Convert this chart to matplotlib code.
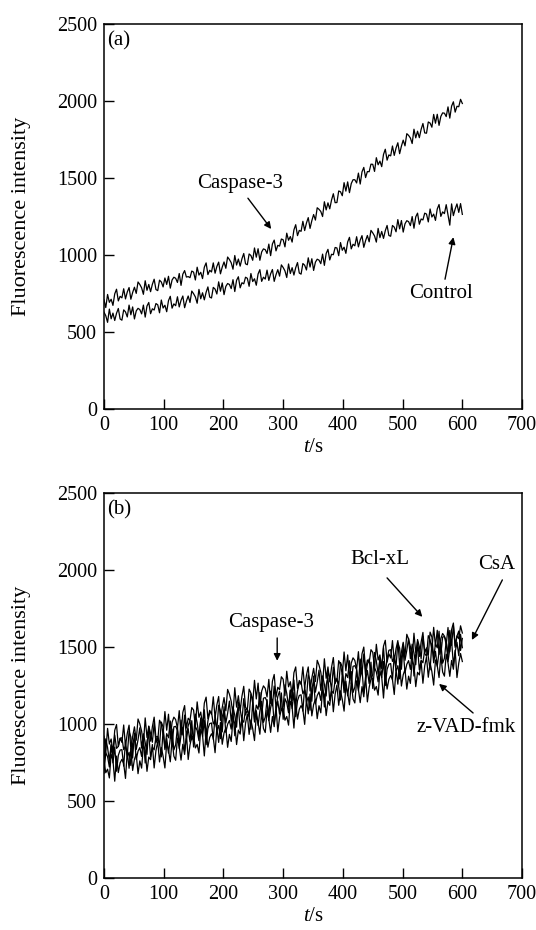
import matplotlib
matplotlib.use("Agg")
import matplotlib.pyplot as plt
import numpy as np

plt.rcParams['font.family'] = ['Liberation Serif', 'DejaVu Serif']
plt.rcParams['mathtext.fontset'] = 'custom'
plt.rcParams['mathtext.rm'] = 'Liberation Serif'
plt.rcParams['mathtext.it'] = 'Liberation Serif:italic'

# time axis: one reading every 3 s, 0..600 s
t = np.arange(0, 601, 3)

# panel (a)
a_caspase3 = [710, 660, 745, 694, 714, 674, 749, 779, 703, 733,
              723, 782, 716, 761, 790, 714, 758, 792, 752, 826,
              810, 788, 746, 834, 772, 810, 763, 811, 844, 777,
              770, 838, 826, 794, 852, 810, 863, 786, 839, 857,
              850, 823, 881, 804, 877, 900, 858, 861, 854, 897,
              890, 839, 922, 871, 889, 848, 922, 950, 874, 902,
              891, 950, 883, 927, 955, 879, 923, 956, 915, 988,
              972, 951, 909, 998, 936, 975, 929, 977, 1011, 944,
              938, 1008, 998, 967, 1047, 987, 1042, 967, 1021, 1041,
              1036, 1011, 1072, 997, 1073, 1098, 1028, 1064, 1059, 1105,
              1100, 1054, 1143, 1097, 1121, 1085, 1164, 1198, 1127, 1161,
              1155, 1220, 1160, 1209, 1244, 1174, 1224, 1264, 1228, 1308,
              1298, 1284, 1251, 1347, 1294, 1340, 1301, 1358, 1399, 1341,
              1342, 1417, 1412, 1386, 1471, 1416, 1476, 1406, 1465, 1490,
              1490, 1469, 1533, 1462, 1541, 1570, 1504, 1543, 1542, 1591,
              1590, 1544, 1633, 1587, 1611, 1575, 1654, 1688, 1617, 1651,
              1645, 1709, 1648, 1696, 1730, 1659, 1708, 1747, 1710, 1789,
              1778, 1761, 1725, 1818, 1762, 1805, 1763, 1817, 1855, 1794,
              1792, 1865, 1858, 1831, 1914, 1857, 1915, 1843, 1901, 1924,
              1922, 1900, 1963, 1890, 1968, 1996, 1929, 1967, 1964, 2012,
              1985]
a_control = [630, 607, 564, 650, 587, 624, 576, 623, 654, 586,
             578, 645, 632, 599, 676, 613, 664, 586, 638, 655,
             647, 619, 676, 598, 670, 693, 620, 652, 644, 686,
             678, 626, 709, 657, 675, 633, 705, 733, 656, 684,
             672, 730, 664, 707, 735, 659, 702, 735, 693, 767,
             750, 729, 688, 778, 717, 756, 710, 759, 794, 728,
             722, 791, 780, 748, 827, 766, 820, 744, 797, 816,
             810, 783, 841, 764, 837, 860, 788, 821, 814, 857,
             850, 798, 881, 829, 847, 805, 878, 906, 830, 857,
             845, 903, 836, 879, 907, 830, 873, 906, 864, 937,
             920, 898, 855, 943, 881, 919, 871, 919, 952, 884,
             877, 946, 935, 904, 983, 923, 977, 901, 955, 974,
             968, 945, 1007, 934, 1011, 1038, 969, 1006, 1003, 1050,
             1047, 997, 1082, 1032, 1052, 1012, 1086, 1116, 1041, 1071,
             1061, 1120, 1054, 1098, 1127, 1051, 1094, 1128, 1087, 1161,
             1145, 1125, 1085, 1174, 1114, 1154, 1109, 1159, 1193, 1128,
             1123, 1193, 1182, 1152, 1231, 1171, 1225, 1150, 1204, 1224,
             1218, 1192, 1251, 1175, 1249, 1273, 1201, 1235, 1229, 1273,
             1267, 1216, 1300, 1248, 1267, 1226, 1300, 1329, 1252, 1281,
             1270, 1328, 1262, 1195, 1333, 1257, 1300, 1333, 1278, 1335,
             1265]

# panel (b)
b_caspase3 = [920, 813, 971, 869, 902, 815, 958, 996, 854, 907,
              880, 993, 856, 939, 992, 835, 918, 981, 894, 1032,
              1000, 953, 866, 1039, 912, 985, 888, 981, 1044, 907,
              890, 1024, 998, 931, 1080, 959, 1063, 907, 1010, 1044,
              1028, 972, 1086, 931, 1075, 1119, 973, 1037, 1022, 1106,
              1090, 984, 1143, 1043, 1077, 991, 1135, 1174, 1034, 1088,
              1062, 1176, 1040, 1124, 1178, 1023, 1107, 1171, 1085, 1224,
              1193, 1147, 1061, 1235, 1109, 1183, 1086, 1180, 1244, 1108,
              1092, 1226, 1200, 1134, 1283, 1162, 1265, 1109, 1213, 1247,
              1231, 1175, 1289, 1133, 1277, 1321, 1174, 1238, 1222, 1306,
              1290, 1184, 1342, 1241, 1274, 1188, 1332, 1370, 1229, 1282,
              1256, 1370, 1233, 1317, 1370, 1214, 1298, 1361, 1275, 1413,
              1382, 1336, 1249, 1423, 1296, 1370, 1274, 1367, 1431, 1294,
              1278, 1411, 1385, 1318, 1467, 1345, 1448, 1292, 1395, 1429,
              1412, 1355, 1469, 1312, 1455, 1499, 1352, 1415, 1398, 1482,
              1465, 1358, 1517, 1415, 1448, 1362, 1505, 1543, 1401, 1455,
              1428, 1541, 1404, 1488, 1541, 1384, 1467, 1530, 1444, 1582,
              1550, 1503, 1416, 1589, 1462, 1535, 1438, 1531, 1594, 1457,
              1440, 1573, 1546, 1479, 1627, 1505, 1608, 1451, 1554, 1587,
              1570, 1513, 1626, 1469, 1612, 1655, 1508, 1571, 1554, 1637,
              1590]
b_bclxl = [760, 903, 846, 759, 862, 795, 928, 841, 854, 907,
           910, 833, 856, 799, 952, 915, 778, 941, 834, 897,
           975, 843, 936, 879, 802, 985, 938, 881, 1004, 877,
           910, 863, 1012, 980, 844, 937, 910, 1019, 867, 981,
           984, 958, 861, 1025, 928, 1057, 916, 989, 1023, 896,
           920, 1064, 1007, 921, 1024, 958, 1092, 925, 1019, 1072,
           1076, 1000, 1023, 967, 1121, 1085, 948, 1112, 1006, 1069,
           1148, 1017, 1111, 1055, 979, 1143, 1096, 1020, 1164, 1058,
           1092, 1046, 1195, 1164, 1028, 1122, 1095, 1204, 1053, 1167,
           1171, 1145, 1049, 1213, 1117, 1246, 1104, 1178, 1212, 1086,
           1110, 1254, 1198, 1113, 1217, 1151, 1285, 1119, 1214, 1268,
           1272, 1196, 1220, 1165, 1319, 1283, 1147, 1311, 1206, 1270,
           1349, 1218, 1312, 1257, 1181, 1345, 1299, 1223, 1368, 1262,
           1296, 1250, 1399, 1369, 1233, 1327, 1301, 1410, 1260, 1374,
           1378, 1352, 1256, 1421, 1325, 1454, 1313, 1387, 1422, 1296,
           1320, 1464, 1408, 1323, 1427, 1361, 1495, 1329, 1424, 1478,
           1482, 1406, 1430, 1374, 1528, 1492, 1355, 1519, 1413, 1477,
           1556, 1424, 1518, 1461, 1384, 1548, 1501, 1424, 1567, 1461,
           1494, 1447, 1596, 1564, 1427, 1521, 1494, 1602, 1450, 1564,
           1567, 1540, 1444, 1607, 1510, 1639, 1497, 1570, 1603, 1477,
           1555]
b_csa = [680, 813, 787, 720, 868, 747, 850, 693, 796, 830,
         833, 726, 885, 783, 816, 730, 873, 911, 769, 823,
         846, 789, 903, 746, 889, 933, 786, 849, 832, 916,
         919, 873, 786, 960, 833, 907, 810, 904, 967, 831,
         864, 978, 841, 925, 978, 822, 906, 969, 883, 1021,
         850, 984, 957, 891, 1039, 918, 1022, 865, 969, 1002,
         1006, 900, 1058, 957, 990, 904, 1048, 1086, 945, 998,
         1022, 966, 1079, 923, 1066, 1110, 964, 1027, 1011, 1094,
         1098, 1052, 965, 1139, 1012, 1086, 990, 1083, 1147, 1010,
         1044, 1158, 1021, 1105, 1158, 1002, 1086, 1149, 1063, 1201,
         1030, 1164, 1138, 1072, 1221, 1100, 1203, 1047, 1151, 1185,
         1189, 1083, 1242, 1141, 1175, 1089, 1232, 1271, 1130, 1184,
         1208, 1152, 1266, 1110, 1254, 1298, 1151, 1215, 1199, 1283,
         1287, 1241, 1155, 1329, 1203, 1278, 1182, 1276, 1340, 1204,
         1238, 1352, 1216, 1301, 1355, 1199, 1283, 1347, 1262, 1401,
         1230, 1364, 1338, 1273, 1422, 1301, 1405, 1249, 1354, 1388,
         1392, 1286, 1445, 1344, 1378, 1292, 1435, 1474, 1333, 1387,
         1411, 1354, 1468, 1311, 1454, 1498, 1351, 1414, 1397, 1481,
         1484, 1437, 1351, 1524, 1397, 1471, 1374, 1467, 1530, 1394,
         1427, 1540, 1404, 1487, 1540, 1384, 1467, 1530, 1443, 1582,
         1495]
b_zvad = [760, 683, 706, 649, 802, 765, 628, 791, 684, 747,
          770, 743, 646, 819, 712, 840, 698, 771, 804, 677,
          760, 713, 861, 829, 692, 785, 768, 866, 714, 827,
          885, 753, 847, 790, 714, 877, 830, 754, 897, 791,
          764, 908, 851, 765, 868, 802, 936, 769, 863, 916,
          920, 844, 867, 811, 964, 928, 792, 955, 849, 912,
          936, 910, 813, 977, 880, 1009, 868, 941, 975, 848,
          932, 886, 1034, 1003, 866, 960, 934, 1042, 891, 1004,
          1063, 932, 1025, 969, 892, 1056, 1010, 933, 1077, 970,
          944, 1088, 1031, 945, 1048, 982, 1116, 949, 1043, 1096,
          1100, 1024, 1048, 992, 1146, 1110, 973, 1137, 1031, 1095,
          1119, 1093, 997, 1161, 1065, 1194, 1052, 1126, 1160, 1034,
          1118, 1072, 1221, 1190, 1054, 1148, 1121, 1230, 1079, 1193,
          1252, 1121, 1215, 1159, 1083, 1247, 1200, 1124, 1268, 1162,
          1136, 1280, 1224, 1138, 1242, 1176, 1309, 1143, 1237, 1291,
          1295, 1219, 1243, 1187, 1341, 1305, 1168, 1332, 1226, 1290,
          1314, 1288, 1191, 1355, 1258, 1387, 1246, 1319, 1353, 1226,
          1310, 1263, 1411, 1379, 1242, 1335, 1318, 1406, 1264, 1377,
          1435, 1303, 1396, 1339, 1252, 1415, 1378, 1301, 1444, 1337,
          1310, 1453, 1396, 1309, 1412, 1355, 1478, 1301, 1394, 1457,
          1405]

x_ticks = [0, 100, 200, 300, 400, 500, 600, 700]
y_ticks = [0, 500, 1000, 1500, 2000, 2500]

FS_TICK = 14.5
FS_TEXT = 15


def style_axes(ax, tag):
    ax.set_xlim(0, 700)
    ax.set_ylim(0, 2500)
    ax.set_xticks(x_ticks)
    ax.set_yticks(y_ticks)
    ax.tick_params(direction='in', length=7, width=1, labelsize=FS_TICK, pad=5,
                   top=False, right=False)
    for sp in ax.spines.values():
        sp.set_linewidth(1.1)
    ax.set_xlabel('$t$/s', fontsize=FS_TEXT)
    ax.xaxis.set_label_coords(0.5, -0.075)
    ax.set_ylabel('Fluorescence intensity', fontsize=16)
    ax.yaxis.set_label_coords(-0.175, 0.5)
    ax.text(6, 2390, tag, fontsize=FS_TEXT, va='center', ha='left')


def note(ax, label, xy, xytext, text_pos):
    ax.annotate('', xy=xy, xytext=xytext,
                arrowprops=dict(arrowstyle='-|>', color='black', lw=1,
                                mutation_scale=10, shrinkA=0, shrinkB=0))
    ax.text(text_pos[0], text_pos[1], label, fontsize=FS_TEXT, ha='center', va='center')


fig = plt.figure(figsize=(5.36, 9.30), dpi=100)
ax1 = fig.add_axes([0.194, 0.560, 0.780, 0.414])
ax2 = fig.add_axes([0.194, 0.056, 0.780, 0.414])

ax1.plot(t, a_caspase3, color='black', lw=0.9)
ax1.plot(t, a_control, color='black', lw=0.9)
style_axes(ax1, '(a)')
note(ax1, 'Caspase-3', (280, 1170), (241, 1370), (228, 1468))
note(ax1, 'Control', (585, 1117), (571, 844), (564, 753))

for series in (b_caspase3, b_bclxl, b_csa, b_zvad):
    ax2.plot(t, series, color='black', lw=0.9)
style_axes(ax2, '(b)')
note(ax2, 'Caspase-3', (290, 1410), (290, 1558), (280, 1656))
note(ax2, 'Bcl-xL', (533, 1695), (474, 1948), (462, 2065))
note(ax2, 'CsA', (616, 1545), (667, 1935), (658, 2032))
note(ax2, 'z-VAD-fmk', (561, 1260), (618, 1071), (607, 974))

fig.savefig('out.png', dpi=100)
